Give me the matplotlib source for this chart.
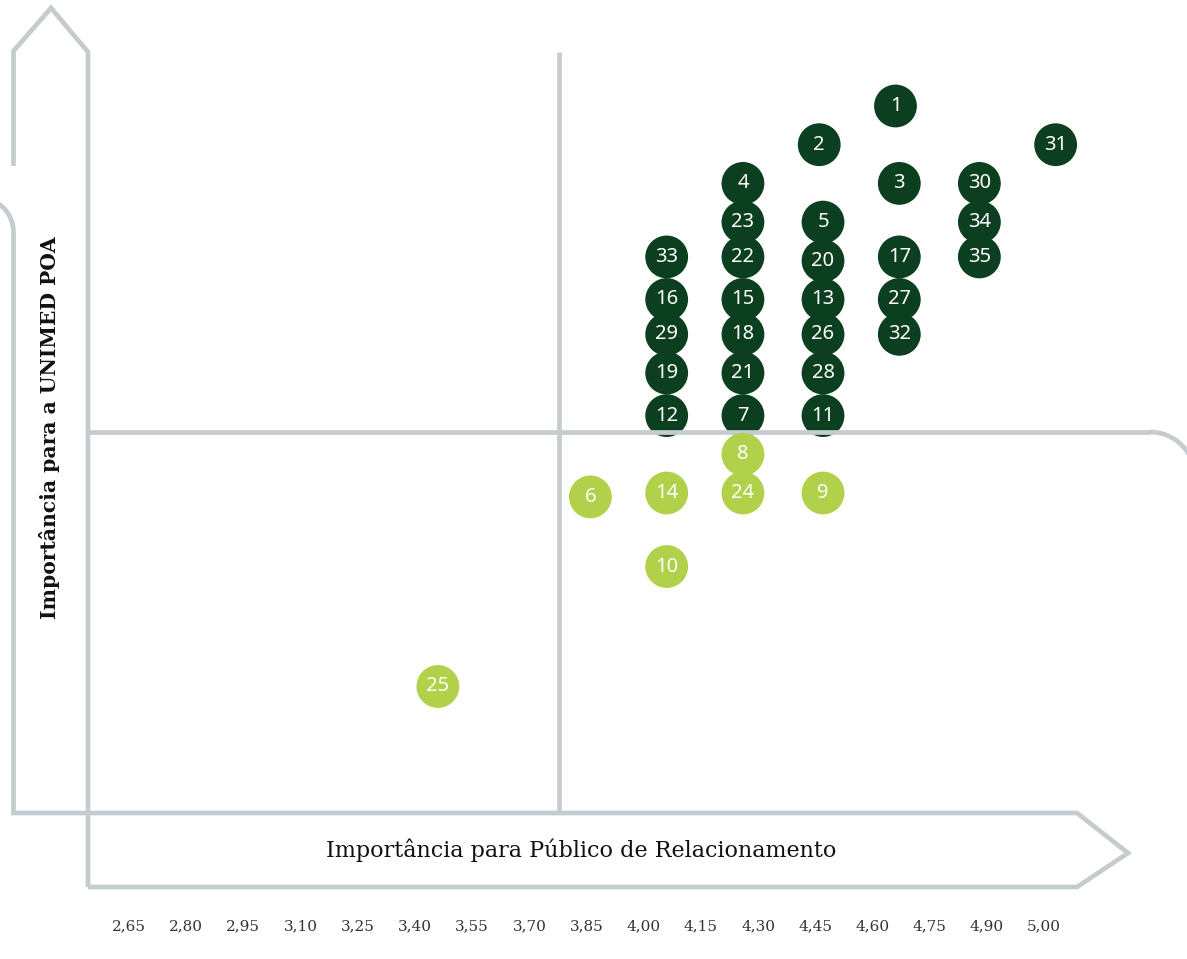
import numpy as np
import matplotlib
matplotlib.use("Agg")
import matplotlib.pyplot as plt
import matplotlib.transforms as mtransforms
from matplotlib.patches import Arc

# dados da matriz de materialidade
temas_alta = ["1", "2", "31", "4", "3", "30", "23", "5", "34",
              "33", "22", "20", "17", "35", "16", "15", "13", "27",
              "29", "18", "26", "32", "19", "21", "28", "12", "7", "11"]
x_alta = [4.66, 4.46, 5.08, 4.26, 4.67, 4.88, 4.26, 4.47, 4.88,
          4.06, 4.26, 4.47, 4.67, 4.88, 4.06, 4.26, 4.47, 4.67,
          4.06, 4.26, 4.47, 4.67, 4.06, 4.26, 4.47, 4.06, 4.26, 4.47]
y_alta = [5.00, 4.90, 4.90, 4.80, 4.80, 4.80, 4.70, 4.70, 4.70,
          4.61, 4.61, 4.60, 4.61, 4.61, 4.50, 4.50, 4.50, 4.50,
          4.41, 4.41, 4.41, 4.41, 4.31, 4.31, 4.31, 4.20, 4.20, 4.20]

temas_baixa = ["8", "6", "14", "24", "9", "10", "25"]
x_baixa = [4.26, 3.86, 4.06, 4.26, 4.47, 4.06, 3.46]
y_baixa = [4.10, 3.99, 4.00, 4.00, 4.00, 3.81, 3.50]

rotulos_x = ["2,65", "2,80", "2,95", "3,10", "3,25", "3,40", "3,55", "3,70", "3,85",
             "4,00", "4,15", "4,30", "4,45", "4,60", "4,75", "4,90", "5,00"]

VERDE_ESCURO = "#0b3f1f"
VERDE_CLARO = "#b2d14b"
CINZA = "#c5ccd0"

W, H = 1187, 959
fig = plt.figure(figsize=(W / 100, H / 100), dpi=100)
fig.patch.set_facecolor("white")

# eixo de dados: escala em px -> valor
AX_BOTTOM = 908
x0 = 2.65 - 129 / 57.2 * 0.15
x1 = 2.65 + (W - 129) / 57.2 * 0.15
y_top = 5.0 + 106 / 387
y_bot = 5.0 - (AX_BOTTOM - 106) / 387

ax = fig.add_axes([0, (H - AX_BOTTOM) / H, 1, AX_BOTTOM / H])
ax.set_xlim(x0, x1)
ax.set_ylim(y_bot, y_top)
ax.patch.set_alpha(0)
for s in ax.spines.values():
    s.set_visible(False)
ax.set_yticks([])
ticks = 2.65 + 0.15 * np.arange(len(rotulos_x))
ax.set_xticks(ticks, rotulos_x)
ax.tick_params(axis="x", length=0, pad=8, labelsize=11, labelcolor="#333333")
for lab in ax.get_xticklabels():
    lab.set_family("DejaVu Serif")

# moldura em coordenadas de pixel (y para baixo)
px = mtransforms.Affine2D().scale(1 / W, -1 / H).translate(0, 1) + fig.transFigure
lw = 3.4

def linha(xs, ys, z=3):
    ax.plot(xs, ys, color=CINZA, lw=lw, transform=px, clip_on=False,
            solid_joinstyle="miter", solid_capstyle="butt", zorder=z)

# seta vertical
linha([13.5, 13.5, 51, 88, 88], [166, 51, 8, 52, 887])
# arco esquerdo + base + seta horizontal
ax.add_patch(Arc((-20.5, 232), 68, 68, theta1=270, theta2=360, transform=px,
                 color=CINZA, lw=lw, clip_on=False, zorder=3))
linha([13.5, 13.5, 1077, 1128, 1077, 88], [232, 813, 813, 853, 887, 887])
# divisoes dos quadrantes
linha([559, 559], [52, 813])
linha([88, 1150], [432, 432])
ax.add_patch(Arc((1150, 477), 90, 90, theta1=270, theta2=360, transform=px,
                 color=CINZA, lw=lw, clip_on=False, zorder=3))

# circulos
ax.scatter(x_alta, y_alta, s=950, color=VERDE_ESCURO, edgecolors="none", zorder=2)
ax.scatter(x_baixa, y_baixa, s=950, color=VERDE_CLARO, edgecolors="none", zorder=4)
for t, xv, yv in zip(temas_alta, x_alta, y_alta):
    ax.text(xv, yv, t, color="white", ha="center", va="center",
            fontsize=14.5, family="Noto Sans", zorder=5)
for t, xv, yv in zip(temas_baixa, x_baixa, y_baixa):
    ax.text(xv, yv, t, color="white", ha="center", va="center",
            fontsize=14.5, family="Noto Sans", zorder=5)

# titulos dos eixos
ax.text(581, 850, "Importância para Público de Relacionamento", transform=px,
        ha="center", va="center", fontsize=16, family="DejaVu Serif", color="#111111")
ax.text(50, 428, "Importância para a UNIMED POA", transform=px, rotation=90,
        ha="center", va="center", fontsize=14.6, family="DejaVu Serif",
        fontweight="bold", color="#111111")

fig.savefig("out.png", dpi=100, facecolor="white")
